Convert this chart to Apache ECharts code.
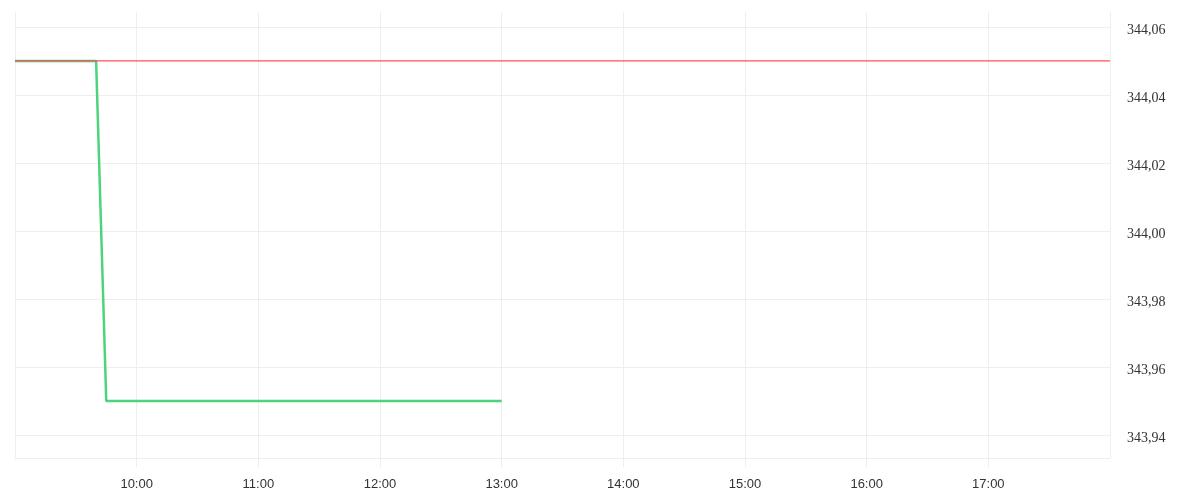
<!DOCTYPE html>
<html>
<head>
<meta charset="utf-8">
<script src="https://cdn.jsdelivr.net/npm/echarts@6/dist/echarts.min.js"></script>
<style>
html,body{margin:0;padding:0;background:#fff;}
#chart{width:1200px;height:500px;}
</style>
</head>
<body>
<div id="chart"></div>
<script>
// Green series (price) – key observation times and values
var greenTimes = ["09:00", "09:40", "09:45", "13:00"];
var greenValues = [344.05, 344.05, 343.95, 343.95];
// Red reference line
var redTimes = ["09:00", "18:00"];
var redValues = [344.05, 344.05];
// Axis range
var xStart = "09:00";
var xEnd = "18:00";
var yMin = 343.9332;
var yMax = 344.0644;

function toMin(t){ var p = t.split(":"); return (+p[0])*60 + (+p[1]); }
function fmtTime(v){ var h = Math.floor(v/60), m = Math.round(v%60); return (h<10?"0":"")+h+":"+(m<10?"0":"")+m; }
function pair(ts, vs){ return ts.map(function(t,i){ return [toMin(t), vs[i]]; }); }

var chart = echarts.init(document.getElementById('chart'), null, {renderer:'canvas'});
chart.setOption({
  animation:false,
  backgroundColor:'#ffffff',
  grid:{left:15, right:90, top:12, bottom:42, containLabel:false},
  xAxis:{
    type:'value',
    min:toMin(xStart), max:toMin(xEnd), interval:60,
    axisLine:{show:true, lineStyle:{color:'#eeeeee', width:1}},
    axisTick:{show:true, length:9, lineStyle:{color:'#eeeeee'}},
    splitLine:{show:true, lineStyle:{color:'#eeeeee', width:1}},
    axisLabel:{
      formatter:function(v){ return fmtTime(v); },
      showMinLabel:false, showMaxLabel:false,
      color:'#333333', fontFamily:'Liberation Sans', fontSize:13, margin:20
    }
  },
  yAxis:{
    type:'value', position:'right',
    min:yMin, max:yMax, splitNumber:6,
    scale:true,
    axisLine:{show:false},
    axisTick:{show:false},
    splitLine:{show:true, showMaxLine:false, showMinLine:false, lineStyle:{color:'#eeeeee', width:1}},
    axisLabel:{
      formatter:function(v){ return '{a|' + v.toFixed(2).replace('.', ',') + '}'; },
      showMinLabel:false, showMaxLabel:false,
      rich:{a:{padding:[6,0,0,0], color:'#333333', fontFamily:'Liberation Serif', fontSize:14}},
      color:'#333333', fontFamily:'Liberation Serif', fontSize:14, margin:17
    }
  },
  series:[
    {
      type:'line', data:pair(greenTimes, greenValues),
      showSymbol:false, symbol:'none',
      lineStyle:{color:'#4cd47c', width:2.5},
      z:2
    },
    {
      type:'line', data:pair(redTimes, redValues),
      showSymbol:false, symbol:'none',
      lineStyle:{color:'#ff4f5a', width:1.3},
      z:3
    }
  ]
});
</script>
</body>
</html>
